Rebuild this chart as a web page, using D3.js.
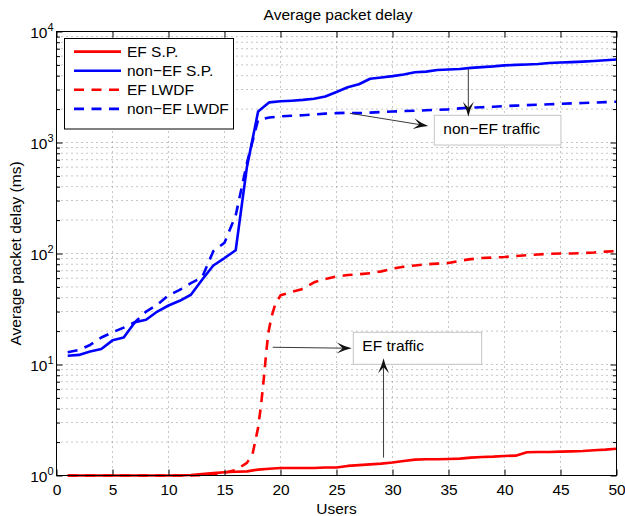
<!DOCTYPE html>
<html>
<head>
<meta charset="utf-8">
<script src="https://cdn.jsdelivr.net/npm/d3@7"></script>
<style>
  html, body { margin: 0; padding: 0; background: #fff; }
  svg { display: block; font-family: "Liberation Sans", Arial, sans-serif; }
</style>
</head>
<body>
<svg id="chart" width="625" height="516"></svg>
<script>
// ---- data -------------------------------------------------------------
const users = [1,2,3,4,5,6,7,8,9,10,11,12,13,14,15,16,17,18,19,20,
               21,22,23,24,25,26,27,28,29,30,31,32,33,34,35,36,37,38,39,40,
               41,42,43,44,45,46,47,48,49,50];

const efSP = [1.00,1.00,1.00,1.00,1.00,1.00,1.00,1.00,1.00,1.00,
              1.00,1.01,1.03,1.05,1.07,1.08,1.09,1.13,1.15,1.17,
              1.17,1.17,1.17,1.18,1.18,1.22,1.24,1.26,1.28,1.31,
              1.35,1.39,1.40,1.40,1.41,1.42,1.45,1.47,1.48,1.50,
              1.51,1.62,1.63,1.63,1.64,1.65,1.66,1.69,1.71,1.74];

const nonEfSP = [12.0,12.2,13.1,13.8,16.5,17.5,24,25.3,30,34,
                 37.5,42.5,58,78,91,107,600,1900,2300,2350,
                 2380,2420,2480,2600,2850,3150,3350,3750,3850,3960,
                 4100,4300,4350,4500,4550,4600,4700,4780,4850,4950,
                 5000,5050,5100,5200,5250,5300,5350,5420,5500,5600];

const efLwdfUsers = [1,5,10,12,13,14,15,16,17,17.5,18,18.25,18.5,18.7,18.9,19.2,19.5,
                     20,21,22,23,24,25,26,27,28,29,30,31,32,33,34,35,36,37,38,39,
                     40,41,42,43,44,45,46,47,48,49,50];
const efLwdf = [1,1,1,1,1.01,1.03,1.06,1.12,1.3,1.55,2.7,4.2,7.3,12,19,27,34,
                42,45,48,55,59,62,64,65,66.5,69,73,76,78,80,81,82,86,89,91,92,
                93,95,96.5,98,99.5,100,100,101,102,104,105];

const nonEfLwdf = [12.9,13.5,15,17.5,19.5,21.5,24,30,34.5,42,
                   47,54,61,105,125,220,650,1600,1680,1720,
                   1740,1760,1790,1820,1840,1850,1840,1860,1880,1900,
                   1920,1930,1950,1970,1990,2030,2060,2080,2100,2130,
                   2150,2170,2190,2210,2230,2250,2270,2290,2310,2330];

const xTicks = [0,5,10,15,20,25,30,35,40,45,50];
const yDecades = [1,10,100,1000,10000];
const seriesNames = ["EF S.P.", "non\u2212EF S.P.", "EF LWDF", "non\u2212EF LWDF"];

const titleText = "Average packet delay";
const xLabelText = "Users";
const yLabelText = "Average packet delay (ms)";

// Callout boxes [x0, x1, yTop, yBottom] and arrows, in data units
const callouts = [
  { text: "non\u2212EF traffic", box: [33.73, 45.04, 1758, 949] },
  { text: "EF traffic",          box: [26.5, 37.96, 19.5, 10.04] }
];
const arrows = [
  { from: [26.2, 1833], to: [33.2, 1408] },
  { from: [36.77, 4590], to: [36.77, 1708] },
  { from: [19.3, 14.3], to: [26.36, 14.0] },
  { from: [29.2, 1.45], to: [29.2, 11.4] }
];

// ---- layout -----------------------------------------------------------
const FONT = 15.5;
const plot = { left: 56.5, right: 616.5, top: 31.5, bottom: 475.5 };

const x = d3.scaleLinear().domain([0, 50]).range([plot.left, plot.right]);
const y = d3.scaleLog().domain([1, 1e4]).range([plot.bottom, plot.top]);

const svg = d3.select("#chart");
svg.append("rect").attr("width", 625).attr("height", 516).attr("fill", "#fff");

const allLogTicks = y.ticks();                     // 1,2,...,9,10,20,...,10000
const minorTicks = allLogTicks.filter(v => !yDecades.includes(v));

// ---- grid ---------------------------------------------------------------
const grid = svg.append("g")
  .attr("stroke", "#8c8c8c").attr("stroke-width", 1)
  .attr("stroke-dasharray", "1,4");

grid.selectAll("line.gx")
  .data(xTicks.filter(v => v > 0 && v < 50))
  .join("line")
  .attr("x1", d => x(d)).attr("x2", d => x(d))
  .attr("y1", plot.top).attr("y2", plot.bottom);

grid.selectAll("line.gy")
  .data(allLogTicks.filter(v => v > 1 && v < 1e4))
  .join("line")
  .attr("x1", plot.left).attr("x2", plot.right)
  .attr("y1", d => y(d)).attr("y2", d => y(d));

// ---- series -----------------------------------------------------------
const line = d3.line().x(d => x(d[0])).y(d => y(d[1]));
const DASH = "10,7.5";

const series = [
  { name: seriesNames[0], pts: d3.zip(users, efSP),          color: "#ff0000", dash: null },
  { name: seriesNames[1], pts: d3.zip(users, nonEfSP),       color: "#0000ff", dash: null },
  { name: seriesNames[2], pts: d3.zip(efLwdfUsers, efLwdf),  color: "#ff0000", dash: DASH },
  { name: seriesNames[3], pts: d3.zip(users, nonEfLwdf),     color: "#0000ff", dash: DASH }
];

svg.append("g").selectAll("path")
  .data(series)
  .join("path")
  .attr("d", d => line(d.pts))
  .attr("fill", "none")
  .attr("stroke", d => d.color)
  .attr("stroke-width", 2.6)
  .attr("stroke-linejoin", "round")
  .attr("stroke-dasharray", d => d.dash);

// ---- axes -------------------------------------------------------------
const axisColor = "#000";

function styleAxis(g) {
  g.select(".domain").remove();
  g.selectAll(".tick line").attr("stroke", axisColor);
  g.selectAll("text").attr("fill", "#000").attr("font-size", FONT)
    .attr("font-family", "Liberation Sans, Arial, sans-serif");
}

svg.append("g").attr("transform", `translate(0,${plot.bottom})`)
  .call(d3.axisBottom(x).tickValues(xTicks).tickSizeInner(-6).tickSizeOuter(0).tickPadding(8))
  .call(styleAxis);

svg.append("g").attr("transform", `translate(0,${plot.top})`)
  .call(d3.axisTop(x).tickValues(xTicks).tickSizeInner(-6).tickSizeOuter(0).tickFormat(""))
  .call(styleAxis);

const leftAxis = svg.append("g").attr("transform", `translate(${plot.left},0)`)
  .call(d3.axisLeft(y).tickValues(yDecades).tickSizeInner(-6).tickSizeOuter(0).tickPadding(3))
  .call(styleAxis);

leftAxis.selectAll(".tick text").each(function(d) {
  const t = d3.select(this);
  t.text(null).attr("dy", "0.38em");
  t.append("tspan").text("10");
  t.append("tspan").attr("dy", -7).attr("font-size", 11).text(String(Math.round(Math.log10(d))));
});

svg.append("g").attr("transform", `translate(${plot.left},0)`)
  .call(d3.axisLeft(y).tickValues(minorTicks).tickSizeInner(-3.5).tickSizeOuter(0).tickFormat(""))
  .call(styleAxis);

svg.append("g").attr("transform", `translate(${plot.right},0)`)
  .call(d3.axisRight(y).tickValues(yDecades).tickSizeInner(-6).tickSizeOuter(0).tickFormat(""))
  .call(styleAxis);

svg.append("g").attr("transform", `translate(${plot.right},0)`)
  .call(d3.axisRight(y).tickValues(minorTicks).tickSizeInner(-3.5).tickSizeOuter(0).tickFormat(""))
  .call(styleAxis);

// frame
svg.append("rect")
  .attr("x", plot.left).attr("y", plot.top)
  .attr("width", plot.right - plot.left).attr("height", plot.bottom - plot.top)
  .attr("fill", "none").attr("stroke", axisColor).attr("stroke-width", 1);

// ---- titles -----------------------------------------------------------
const midX = (plot.left + plot.right) / 2;
const midY = (plot.top + plot.bottom) / 2;

svg.append("text").attr("x", midX + 1.5).attr("y", 19.5)
  .attr("text-anchor", "middle").attr("font-size", FONT).text(titleText);

svg.append("text").attr("x", midX).attr("y", 514)
  .attr("text-anchor", "middle").attr("font-size", FONT).text(xLabelText);

svg.append("text")
  .attr("transform", `translate(20.5,${midY}) rotate(-90)`)
  .attr("text-anchor", "middle").attr("font-size", FONT).text(yLabelText);

// ---- callouts ---------------------------------------------------------
const notes = svg.append("g");
callouts.forEach(c => {
  const x0 = x(c.box[0]), x1 = x(c.box[1]);
  const y0 = y(c.box[2]), y1 = y(c.box[3]);
  notes.append("rect")
    .attr("x", x0).attr("y", y0).attr("width", x1 - x0).attr("height", y1 - y0)
    .attr("fill", "#fff").attr("stroke", "#c4c4c4").attr("stroke-width", 1);
  notes.append("text")
    .attr("x", x0 + 9).attr("y", y0 + 18.5)
    .attr("font-size", FONT).attr("fill", "#000").text(c.text);
});

// arrows with a notched head
const HEAD_L = 15, HEAD_W = 11;
arrows.forEach(a => {
  const sx = x(a.from[0]), sy = y(a.from[1]);
  const ex = x(a.to[0]),   ey = y(a.to[1]);
  const ang = Math.atan2(ey - sy, ex - sx);
  const ux = Math.cos(ang), uy = Math.sin(ang);
  notes.append("line")
    .attr("x1", sx).attr("y1", sy)
    .attr("x2", ex - ux * HEAD_L * 0.5).attr("y2", ey - uy * HEAD_L * 0.5)
    .attr("stroke", "#3a3a3a").attr("stroke-width", 1);
  const L = HEAD_L, w = HEAD_W / 2;
  notes.append("path")
    .attr("d", `M0,0 Q${-L * 0.45},${-w * 0.25} ${-L},${-w} L${-L * 0.6},0 L${-L},${w} Q${-L * 0.45},${w * 0.25} 0,0 Z`)
    .attr("transform", `translate(${ex},${ey}) rotate(${ang * 180 / Math.PI})`)
    .attr("fill", "#111");
});

// ---- legend -----------------------------------------------------------
const legend = svg.append("g");
legend.append("rect")
  .attr("x", 64.5).attr("y", 38.5).attr("width", 169).attr("height", 90.5)
  .attr("fill", "#fff").attr("stroke", "#000").attr("stroke-width", 1);

const rows = legend.selectAll("g.row")
  .data(series)
  .join("g")
  .attr("transform", (d, i) => `translate(0,${51.6 + i * 19.1})`);

rows.append("line")
  .attr("x1", 74).attr("x2", 121).attr("y1", 0).attr("y2", 0)
  .attr("stroke", d => d.color).attr("stroke-width", 2.6)
  .attr("stroke-dasharray", d => d.dash);

rows.append("text")
  .attr("x", 127).attr("y", 0).attr("dy", "0.36em")
  .attr("font-size", FONT).attr("fill", "#000")
  .text(d => d.name);
</script>
</body>
</html>
